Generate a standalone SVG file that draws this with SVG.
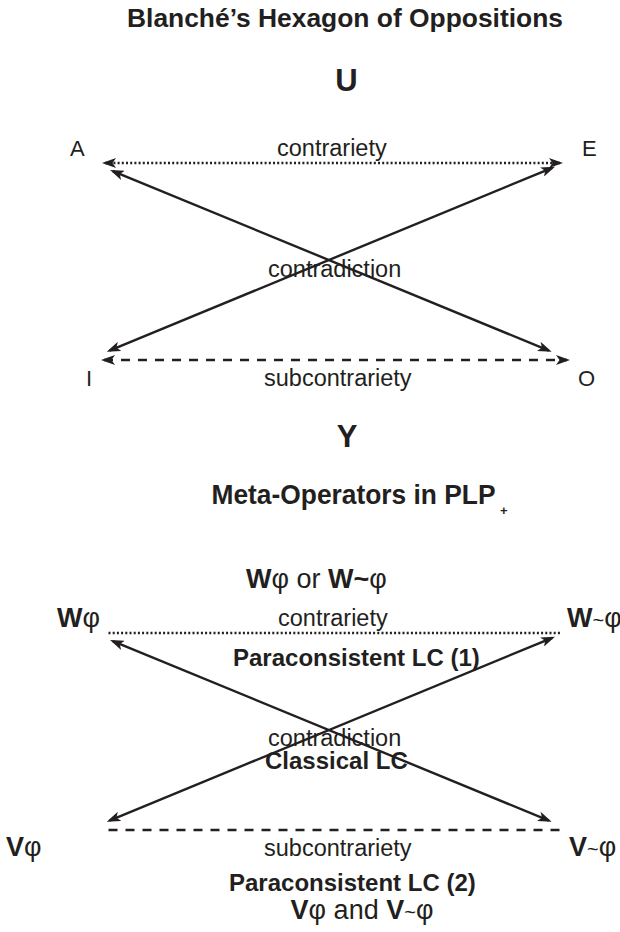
<svg xmlns="http://www.w3.org/2000/svg" width="620" height="932" viewBox="0 0 620 932">
<style>
text{font-family:"Liberation Sans",Arial,sans-serif;fill:#231f20}
.b{font-weight:bold}
.lbl{font-size:23.5px}
.corner{font-size:22px}
.big{font-size:31px;font-weight:bold}
.sub{font-size:24px;font-weight:bold}
.sym{font-size:27px}
.ln{stroke:#231f20;stroke-width:2.4;fill:none}
.dot{stroke:#231f20;stroke-width:2.4;fill:none;stroke-dasharray:2 2.2}
.dash{stroke:#231f20;stroke-width:2.4;fill:none;stroke-dasharray:9 8}
</style>
<defs>
<marker id="ah" viewBox="0 0 14 10" markerWidth="14" markerHeight="10" refX="11" refY="5" orient="auto-start-reverse" markerUnits="userSpaceOnUse">
<path d="M0,0 L14,5 L0,10 L3.5,5 Z" fill="#231f20"/>
</marker>
</defs>
<rect width="620" height="932" fill="#fff"/>

<g id="connectors">
<path class="dot" d="M105,163 H560" marker-start="url(#ah)" marker-end="url(#ah)"/>
<path class="dash" d="M104,360 H567" marker-start="url(#ah)" marker-end="url(#ah)"/>
<path class="ln" d="M112.8,171.1 L548.9,350.6" marker-start="url(#ah)" marker-end="url(#ah)"/>
<path class="ln" d="M552.2,167.8 L109.5,350.6" marker-start="url(#ah)" marker-end="url(#ah)"/>
<path class="dot" d="M108.5,633 H561.5"/>
<path class="dash" d="M108.5,830 H565"/>
<path class="ln" d="M112.8,641.1 L548.9,820.6" marker-start="url(#ah)" marker-end="url(#ah)"/>
<path class="ln" d="M552.2,637.8 L109.5,820.6" marker-start="url(#ah)" marker-end="url(#ah)"/>
</g>

<g id="title"><text class="b" x="127" y="27" font-size="26.4">Blanché’s Hexagon of Oppositions</text></g>
<g id="U"><text class="big" x="346.5" y="91" text-anchor="middle">U</text></g>
<g id="A"><text class="corner" x="70" y="156">A</text></g>
<g id="E"><text class="corner" x="582" y="156">E</text></g>
<g id="I"><text class="corner" x="86" y="386">I</text></g>
<g id="O"><text class="corner" x="578" y="386">O</text></g>
<g id="label-contrariety-1"><text class="lbl" x="277" y="156">contrariety</text></g>
<g id="label-contradiction-1"><text class="lbl" x="268" y="277">contradiction</text></g>
<g id="label-subcontrariety-1"><text class="lbl" x="264" y="386">subcontrariety</text></g>
<g id="Y"><text class="big" x="347" y="447" text-anchor="middle">Y</text></g>

<g id="meta-title"><text class="b" x="211.5" y="504" font-size="27" textLength="284" lengthAdjust="spacingAndGlyphs">Meta-Operators in PLP</text><text class="b" x="500" y="515" font-size="13">+</text></g>
<g id="W-or"><text class="sym" x="246" y="588" font-size="28"><tspan class="b">W</tspan>φ or <tspan class="b">W~</tspan>φ</text></g>

<g id="Wphi"><text class="sym" x="57" y="627"><tspan class="b">W</tspan>φ</text></g>
<g id="Wnphi"><text class="sym" x="567" y="627"><tspan class="b">W</tspan><tspan font-size="20">~</tspan>φ</text></g>
<g id="label-contrariety-2"><text class="lbl" x="278" y="626">contrariety</text></g>
<g id="label-para-1"><text class="sub" x="233" y="666">Paraconsistent LC (1)</text></g>
<g id="label-contradiction-2"><text class="lbl" x="268" y="746">contradiction</text></g>
<g id="label-classical"><text class="sub" x="265" y="769">Classical LC</text></g>
<g id="Vphi"><text class="sym" x="6" y="856"><tspan class="b">V</tspan>φ</text></g>
<g id="Vnphi"><text class="sym" x="569" y="856"><tspan class="b">V</tspan><tspan font-size="20">~</tspan>φ</text></g>
<g id="label-subcontrariety-2"><text class="lbl" x="264" y="856">subcontrariety</text></g>
<g id="label-para-2"><text class="sub" x="229" y="891">Paraconsistent LC (2)</text></g>
<g id="V-and"><text class="sym" x="290.6" y="919"><tspan class="b">V</tspan>φ and <tspan class="b">V</tspan><tspan font-size="20">~</tspan>φ</text></g>
</svg>
